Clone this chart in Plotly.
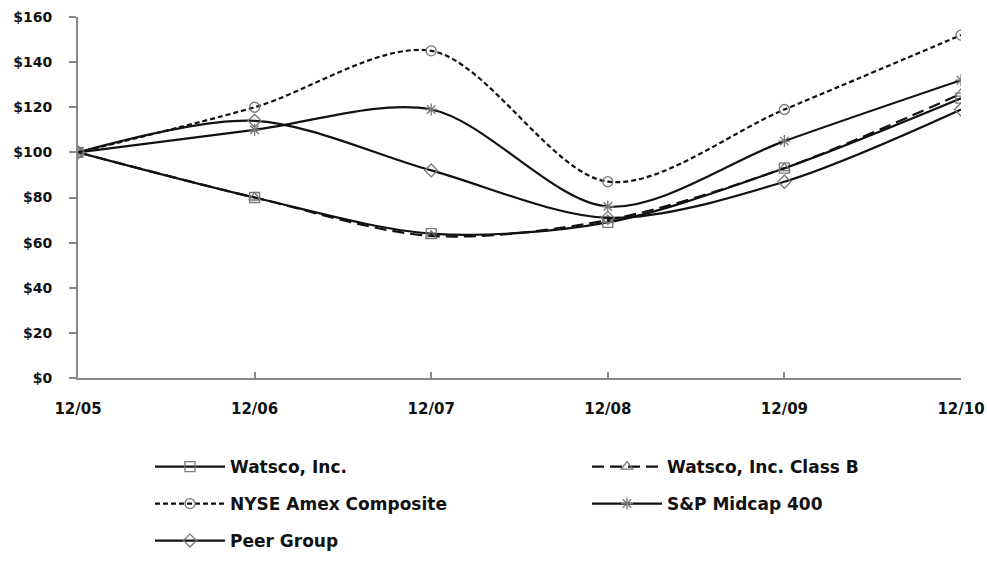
import plotly.graph_objects as go

periods = ["12/05", "12/06", "12/07", "12/08", "12/09", "12/10"]
watsco = [100, 80, 64, 69, 93, 124]
watsco_b = [100, 80, 63, 70, 93, 126]
nyse_amex = [100, 120, 145, 87, 119, 152]
sp_midcap = [100, 110, 119, 76, 105, 132]
peer_group = [100, 114, 92, 71, 87, 119]
y_ticks = [0, 20, 40, 60, 80, 100, 120, 140, 160]
y_tick_labels = ["$0", "$20", "$40", "$60", "$80", "$100", "$120", "$140", "$160"]

series = [
    ("Watsco, Inc.", watsco, "square-open", "solid", "legend"),
    ("Watsco, Inc. Class B", watsco_b, "triangle-up-open", "12px,6px", "legend"),
    ("NYSE Amex Composite", nyse_amex, "circle-open", "5px,3px", "legend2"),
    ("S&P Midcap 400", sp_midcap, "asterisk-open", "solid", "legend2"),
    ("Peer Group", peer_group, "diamond-open", "solid", "legend3"),
]

FIG_W, FIG_H = 987, 568

fig = go.Figure()
for name, vals, sym, dash, lg in series:
    fig.add_trace(go.Scatter(
        x=list(range(len(periods))), y=vals, name=name, legend=lg,
        mode="lines+markers",
        line=dict(color="#111111", width=2.2, dash=dash, shape="spline", smoothing=0.9),
        marker=dict(symbol=sym, size=10, color="#777777", line=dict(width=1.3, color="#777777")),
    ))

legend_font = dict(size=17, family="DejaVu Sans, sans-serif", color="#111111", weight="bold")
def make_legend(ypx):
    return dict(
        orientation="h", xref="container", yref="container",
        x=150 / FIG_W, xanchor="left", y=1 - ypx / FIG_H, yanchor="middle",
        entrywidth=352, entrywidthmode="pixels", itemwidth=70,
        font=legend_font, bgcolor="rgba(0,0,0,0)",
    )

tick_font = dict(size=15, family="DejaVu Sans, sans-serif", color="#111111", weight="bold")
fig.update_layout(
    width=FIG_W, height=FIG_H,
    margin=dict(l=78, r=FIG_W - 961, t=17, b=FIG_H - 378),
    plot_bgcolor="white", paper_bgcolor="white",
    font=dict(family="DejaVu Sans, sans-serif", color="#111111"),
    showlegend=True,
    legend=make_legend(467),
    legend2=make_legend(504),
    legend3=make_legend(541),
)
fig.update_xaxes(
    range=[0, 5], tickvals=list(range(len(periods))), ticktext=periods,
    showgrid=False, zeroline=False, automargin=False,
    showline=True, linecolor="#888888", linewidth=2,
    ticks="inside", ticklen=6, tickcolor="#888888", tickwidth=1.5,
    tickfont=tick_font, ticklabelstandoff=16,
)
fig.update_yaxes(
    range=[0, 160], tickvals=y_ticks, ticktext=y_tick_labels,
    showgrid=False, zeroline=False, automargin=False,
    showline=True, linecolor="#888888", linewidth=2,
    ticks="outside", ticklen=7, tickcolor="#888888", tickwidth=1.5,
    tickfont=dict(size=14, family="DejaVu Sans, sans-serif", color="#111111", weight="bold"),
    ticklabelstandoff=14,
)
fig.write_html(
    "out.html",
    config={"displayModeBar": False},
    post_script="document.body.style.margin='0';document.body.style.overflow='hidden';",
)
